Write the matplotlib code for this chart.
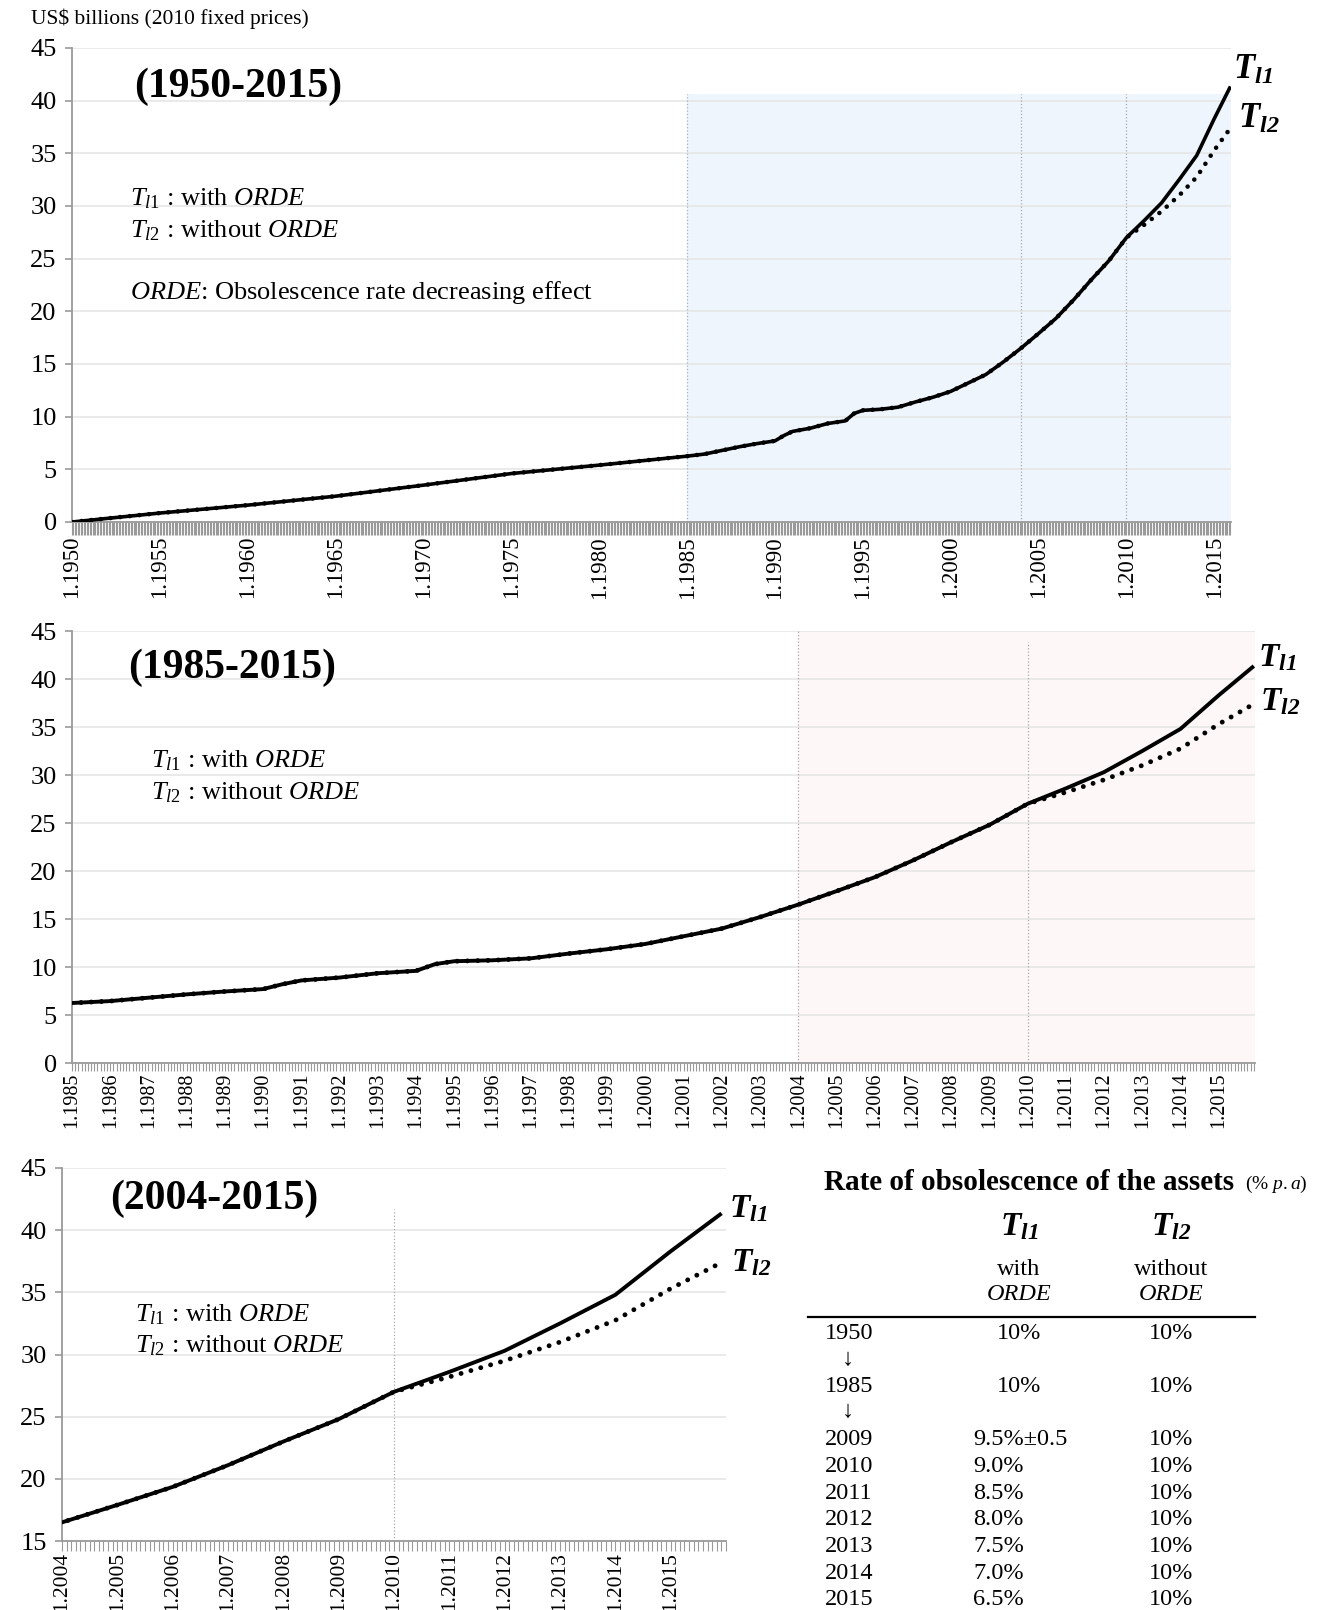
import matplotlib
matplotlib.use('Agg')
import matplotlib.pyplot as plt
from matplotlib.ticker import MultipleLocator, FixedLocator, FixedFormatter

# --- data (US$ billions, 2010 prices) ---
years = [1950, 1955, 1960, 1965, 1970, 1975, 1980, 1985, 1986, 1987, 1988, 1989,
         1990, 1990.5, 1991, 1992, 1993, 1994, 1994.5, 1995, 1996, 1997, 1998, 1999,
         2000, 2001, 2002, 2003, 2004, 2005, 2006, 2007, 2008, 2009, 2010, 2011,
         2012, 2013, 2014, 2015, 2015.92]
tl1 = [0.0, 0.85, 1.6, 2.45, 3.5, 4.6, 5.4, 6.25, 6.45, 6.8, 7.15, 7.45,
       7.7, 8.2, 8.6, 8.9, 9.35, 9.6, 10.3, 10.6, 10.7, 10.9, 11.4, 11.85,
       12.4, 13.2, 14.0, 15.2, 16.5, 17.9, 19.35, 21.1, 23.0, 24.8, 27.0, 28.6,
       30.3, 32.5, 34.8, 38.3, 41.35]
tl2 = [0.0, 0.85, 1.6, 2.45, 3.5, 4.6, 5.4, 6.25, 6.45, 6.8, 7.15, 7.45,
       7.7, 8.2, 8.6, 8.9, 9.35, 9.6, 10.3, 10.6, 10.7, 10.9, 11.4, 11.85,
       12.4, 13.2, 14.0, 15.2, 16.5, 17.9, 19.35, 21.1, 23.0, 24.8, 27.0, 28.2,
       29.5, 31.0, 32.75, 35.3, 37.4]

# table on the bottom right
table_years = ['1950', '1985', '2009', '2010', '2011', '2012', '2013', '2014', '2015']
table_tl1 = ['10%', '10%', '9.5%\u00b10.5', '9.0%', '8.5%', '8.0%', '7.5%', '7.0%', '6.5%']
table_tl2 = ['10%', '10%', '10%', '10%', '10%', '10%', '10%', '10%', '10%']

# --- fonts ---
plt.rcParams['font.family'] = ['Liberation Serif', 'DejaVu Serif']
plt.rcParams['mathtext.fontset'] = 'custom'
plt.rcParams['mathtext.rm'] = 'Liberation Serif'
plt.rcParams['mathtext.it'] = 'Liberation Serif:italic'
plt.rcParams['mathtext.bf'] = 'Liberation Serif:bold'
try:
    plt.rcParams['mathtext.bfit'] = 'Liberation Serif:bold:italic'
    BFIT = True
except KeyError:
    BFIT = False

if BFIT:
    LAB1 = r'$\mathbfit{T}_{\mathbfit{l1}}$'
    LAB2 = r'$\mathbfit{T}_{\mathbfit{l2}}$'
else:
    LAB1 = r'$\mathbf{T}_{\mathbf{l1}}$'
    LAB2 = r'$\mathbf{T}_{\mathbf{l2}}$'
LEG1 = r'$\mathit{T}_{\mathit{l1}}$ : with $\mathit{ORDE}$'
LEG2 = r'$\mathit{T}_{\mathit{l2}}$ : without $\mathit{ORDE}$'

W, H = 1323, 1610
fig = plt.figure(figsize=(W / 100, H / 100), dpi=100)

GRID = '#E6E6E6'
AXC = '#9A9A9A'


def panel(rect_px, xmin, xmax, ymin, ymax, label_years, tick_len, lw, tick_fs):
    l, t, r, b = rect_px
    ax = fig.add_axes([l / W, 1 - b / H, (r - l) / W, (b - t) / H])
    ax.set_xlim(xmin, xmax)
    ax.set_ylim(ymin, ymax)
    ax.set_axisbelow(True)
    ax.yaxis.set_major_locator(MultipleLocator(5))
    ax.grid(axis='y', color=GRID, lw=1.2)
    for s in ['top', 'right']:
        ax.spines[s].set_visible(False)
    for s in ['left', 'bottom']:
        ax.spines[s].set_color(AXC)
        ax.spines[s].set_linewidth(1.3)
    ax.xaxis.set_major_locator(FixedLocator(label_years))
    ax.xaxis.set_major_formatter(FixedFormatter(['1.%d' % y for y in label_years]))
    ax.xaxis.set_minor_locator(MultipleLocator(1 / 12))
    ax.tick_params(axis='x', which='both', length=tick_len, width=0.8, color=AXC,
                   labelrotation=90, labelsize=tick_fs, pad=1)
    ax.tick_params(axis='y', length=5, width=1.2, color=AXC, labelsize=19, pad=6)
    ax.plot(years, tl2, color='black', lw=lw + 0.7, linestyle=(0, (0.01, 2.1)),
            dash_capstyle='round', zorder=3)
    ax.plot(years, tl1, color='black', lw=lw, zorder=4, solid_capstyle='butt',
            solid_joinstyle='round')
    return ax


# panel 1 (1950-2015)
ax1 = panel((72, 48, 1231, 522), 1950, 2015.95, 0, 45, list(range(1950, 2016, 5)), 9, 2.6, 16.5)
ax1.fill_between([1985, 2015.95], 0, 40.6, color='#EEF5FC', zorder=0.3, lw=0)
ax1.plot([1985, 1985], [0, 40.6], color='#9DB3CC', lw=0.9, ls=':', zorder=1)
for xv in [2004, 2010]:
    ax1.plot([xv, xv], [0, 40.6], color='#A8A8A8', lw=0.9, ls=':', zorder=1)

# panel 2 (1985-2015)
ax2 = panel((72, 631, 1255, 1063), 1985, 2015.95, 0, 45, list(range(1985, 2016)), 6, 2.8, 14.5)
ax2.fill_between([2004, 2015.95], 0, 45, color='#FDF8F7', zorder=0.3, lw=0)
ax2.plot([2004, 2004], [0, 45], color='#A8A8A8', lw=0.9, ls=':', zorder=1)
ax2.plot([2010, 2010], [0, 43.9], color='#A8A8A8', lw=0.9, ls=':', zorder=1)

# panel 3 (2004-2015)
ax3 = panel((62, 1168, 726, 1541), 2004, 2016.0, 15, 45, list(range(2004, 2016)), 7, 2.8, 15.5)
ax3.plot([2010, 2010], [15, 41.7], color='#A8A8A8', lw=0.9, ls=':', zorder=1)

# --- text overlay in pixel coordinates ---
ov = fig.add_axes([0, 0, 1, 1])
ov.set_xlim(0, W)
ov.set_ylim(H, 0)
ov.axis('off')

ov.text(31, 19, 'US$ billions (2010 fixed prices)', fontsize=15.5, va='center')

titles = [('(1950-2015)', 134, 87), ('(1985-2015)', 128, 668), ('(2004-2015)', 110, 1199)]
for s, x, y in titles:
    ov.text(x, y, s, fontsize=30, fontweight='bold', va='center')

legends = [(130, 199, 231), (151, 761, 793), (135, 1315, 1346)]
for x, y1, y2 in legends:
    ov.text(x, y1, LEG1, fontsize=19, va='center')
    ov.text(x, y2, LEG2, fontsize=19, va='center')
ov.text(130, 292, r'$\mathit{ORDE}$: Obsolescence rate decreasing effect', fontsize=19, va='center')

ends = [(1233, 70, 1238, 119, 25), (1258, 658, 1260, 702, 24), (729, 1209, 731, 1263, 24)]
for xa, ya, xb, yb, fs in ends:
    ov.text(xa, ya, LAB1, fontsize=fs, va='center')
    ov.text(xb, yb, LAB2, fontsize=fs, va='center')

# table
ov.text(824, 1182, 'Rate of obsolescence of the assets', fontsize=21, fontweight='bold', va='center')
ov.text(1245, 1184, r'(% $\mathit{p.a}$)', fontsize=14, va='center')
c1, c2 = 1019, 1171
ov.text(c1, 1227, LAB1, fontsize=24, ha='center', va='center')
ov.text(c2, 1227, LAB2, fontsize=24, ha='center', va='center')
ov.text(c1, 1269, 'with', fontsize=17.5, ha='center', va='center')
ov.text(c2, 1269, 'without', fontsize=17.5, ha='center', va='center')
ov.text(c1, 1294, 'ORDE', fontsize=17.5, style='italic', ha='center', va='center')
ov.text(c2, 1294, 'ORDE', fontsize=17.5, style='italic', ha='center', va='center')
ov.plot([808, 1255], [1317, 1317], color='black', lw=1.6)

row_y = [1333, 1386, 1439, 1466, 1493, 1519, 1546, 1573, 1599]
for yr, v1, v2, y in zip(table_years, table_tl1, table_tl2, row_y):
    ov.text(825, y, yr, fontsize=17.5, va='center')
    if yr in ('1950', '1985'):
        ov.text(c1, y, v1, fontsize=17.5, ha='center', va='center')
    else:
        ov.text(973, y, v1, fontsize=17.5, va='center')
    ov.text(c2, y, v2, fontsize=17.5, ha='center', va='center')
for y in [1359, 1411]:
    ov.text(848, y, '\u2193', fontsize=17.5, ha='center', va='center')

fig.savefig('out.png', dpi=100)
